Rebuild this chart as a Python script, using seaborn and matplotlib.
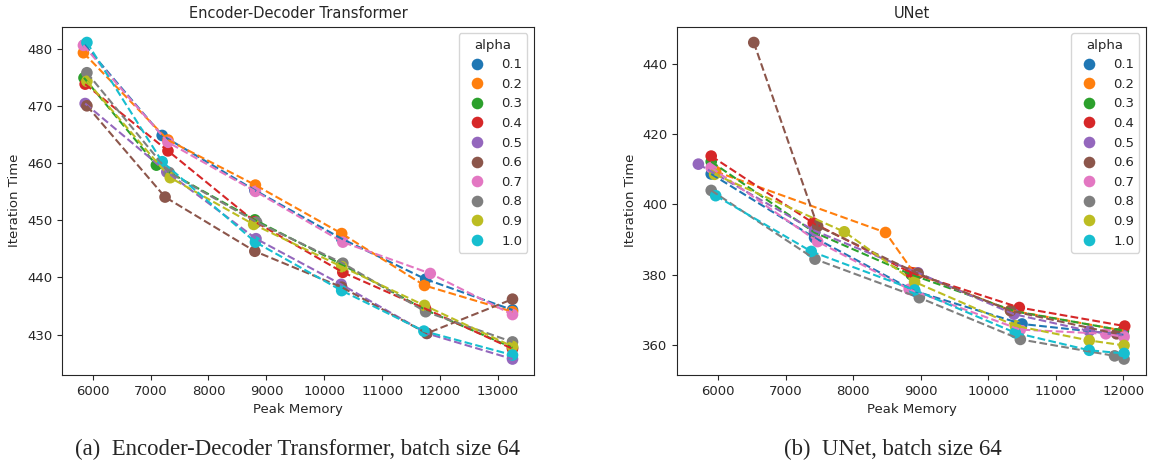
import numpy as np
import pandas as pd
import matplotlib
matplotlib.use("Agg")
import matplotlib.pyplot as plt
import seaborn as sns

# alpha values (legend entries)
alphas = ["0.1", "0.2", "0.3", "0.4", "0.5", "0.6", "0.7", "0.8", "0.9", "1.0"]

# Encoder-Decoder Transformer, batch size 64
enc_mem = [
    [5860, 7200, 8800, 10300, 11750, 13250],
    [5840, 7300, 8810, 10300, 11730, 13250],
    [5850, 7100, 8800, 10300, 11750, 13250],
    [5870, 7300, 8800, 10320, 11750, 13250],
    [5870, 7280, 8820, 10290, 11770, 13250],
    [5900, 7250, 8800, 10300, 11770, 13250],
    [5840, 7300, 8810, 10320, 11830, 13250],
    [5900, 7320, 8830, 10320, 11750, 13250],
    [5900, 7340, 8780, 10300, 11730, 13250],
    [5900, 7200, 8810, 10300, 11720, 13250],
]
enc_time = [
    [480.8, 464.9, 455.3, 446.8, 439.7, 434.3],
    [479.4, 464.1, 456.2, 447.7, 438.6, 434.0],
    [475.0, 459.7, 450.1, 442.3, 434.3, 427.7],
    [473.9, 462.2, 449.8, 440.9, 434.5, 427.5],
    [470.5, 458.5, 446.8, 438.8, 430.2, 425.7],
    [470.1, 454.1, 444.6, 438.3, 430.2, 436.2],
    [480.7, 463.7, 455.1, 446.2, 440.7, 433.5],
    [475.9, 458.4, 449.7, 442.5, 434.0, 428.7],
    [474.4, 457.5, 449.3, 441.9, 435.1, 427.9],
    [481.2, 460.3, 446.2, 437.7, 430.6, 426.4],
]

# UNet, batch size 64
unet_mem = [
    [5900, 7430, 8910, 10500, 12000],
    [5966, 8480, 8900, 10330, 12000],
    [5900, 7430, 8860, 10400, 12000],
    [5900, 7410, 8850, 10460, 12020],
    [5710, 7430, 8960, 10380, 11495, 12000],
    [6530, 7475, 8960, 10330, 11900],
    [5900, 7475, 8830, 10475, 11740, 12010],
    [5900, 7436, 8980, 10475, 11870, 12010],
    [5950, 7870, 8910, 10400, 11495, 12010],
    [5966, 7380, 8910, 10400, 11495, 12010],
]
unet_time = [
    [408.7, 390.5, 375.3, 365.9, 362.8],
    [409.4, 392.0, 380.5, 369.8, 364.0],
    [412.2, 392.0, 380.0, 369.5, 364.0],
    [413.8, 394.7, 380.6, 370.6, 365.3],
    [411.5, 392.5, 380.5, 368.7, 363.9, 362.6],
    [446.2, 393.8, 380.3, 369.7, 363.1],
    [410.5, 389.4, 375.8, 364.3, 363.1, 362.2],
    [404.0, 384.4, 373.4, 361.5, 356.8, 355.9],
    [408.6, 392.2, 377.9, 365.4, 361.2, 359.8],
    [402.5, 386.6, 375.6, 363.4, 358.4, 357.5],
]


def to_frame(mem, time):
    rows = []
    for a, xs, ys in zip(alphas, mem, time):
        for x, y in zip(xs, ys):
            rows.append({"alpha": a, "Peak Memory": x, "Iteration Time": y})
    return pd.DataFrame(rows)


sns.set_style("ticks")
plt.rcParams["font.family"] = ["DejaVu Sans"]
plt.rcParams["font.size"] = 9.5
plt.rcParams["axes.labelsize"] = 9.5
plt.rcParams["xtick.labelsize"] = 9.5
plt.rcParams["ytick.labelsize"] = 9.5
palette = dict(zip(alphas, sns.color_palette("tab10", 10)))

fig = plt.figure(figsize=(11.54, 4.68), dpi=100)
ax1 = fig.add_axes([0.0537, 0.199, 0.409, 0.744])
ax2 = fig.add_axes([0.5867, 0.199, 0.4064, 0.744])

panels = [
    (ax1, to_frame(enc_mem, enc_time), "Encoder-Decoder Transformer"),
    (ax2, to_frame(unet_mem, unet_time), "UNet"),
]

for ax, df, title in panels:
    sns.lineplot(data=df, x="Peak Memory", y="Iteration Time", hue="alpha",
                 hue_order=alphas, palette=palette, estimator=None, sort=True,
                 linestyle="--", linewidth=1.5, legend=False, ax=ax)
    sns.scatterplot(data=df, x="Peak Memory", y="Iteration Time", hue="alpha",
                    hue_order=alphas, palette=palette, s=70, linewidth=0,
                    ax=ax)
    ax.set_title(title, fontsize=10.5)
    ax.legend(title="alpha", loc="upper right", fontsize=9.5,
              title_fontsize=9.5)

ax1.set_xticks([6000, 7000, 8000, 9000, 10000, 11000, 12000, 13000])
ax1.set_yticks([430, 440, 450, 460, 470, 480])
ax2.set_xticks([6000, 7000, 8000, 9000, 10000, 11000, 12000])
ax2.set_yticks([360, 380, 400, 420, 440])

fig.text(0.258, 0.04, "(a)  Encoder-Decoder Transformer, batch size 64",
         ha="center", va="center", family="Liberation Serif", fontsize=16.4)
fig.text(0.774, 0.04, "(b)  UNet, batch size 64",
         ha="center", va="center", family="Liberation Serif", fontsize=16.4)

plt.savefig("out.png", dpi=100)
